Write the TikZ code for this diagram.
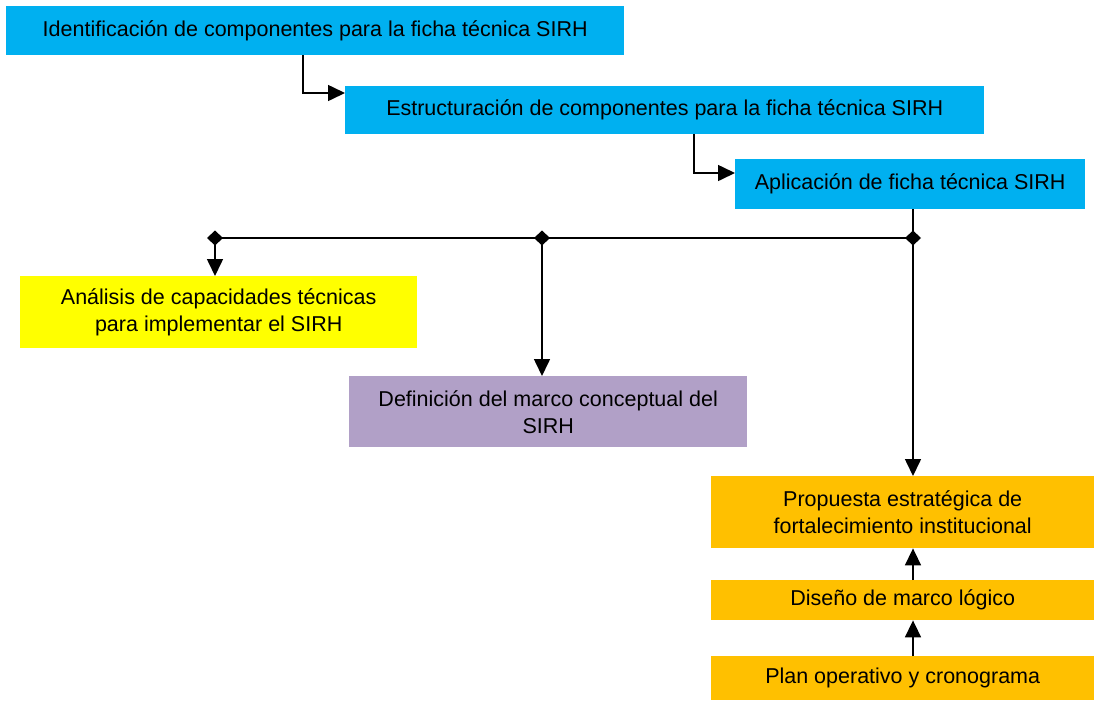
\documentclass[tikz,border=0pt]{standalone}
\usepackage{fontspec}
\setmainfont{Liberation Sans}
\usetikzlibrary{arrows.meta}
\definecolor{cblue}{HTML}{00B0F0}
\definecolor{cyellow}{HTML}{FFFF00}
\definecolor{cpurple}{HTML}{B1A0C7}
\definecolor{corange}{HTML}{FFC000}
\begin{document}
\begin{tikzpicture}[x=1pt,y=-1pt,
  box/.style={draw=none, inner sep=0pt, align=center, anchor=north west,
    font=\fontsize{21.5}{27}\selectfont},
  conn/.style={line width=1.6pt, -{Triangle[length=17pt,width=16pt]}},
  plain/.style={line width=1.6pt},
  diamark/.style={fill=black}]
\useasboundingbox (0,0) rectangle (1096,702);
\fill[white] (0,0) rectangle (1096,702);

\node[box, fill=cblue, minimum width=618, minimum height=49] (b1) at (6,6)
  {Identificación de componentes para la ficha técnica SIRH};
\node[box, fill=cblue, minimum width=639, minimum height=48] (b2) at (345,86)
  {Estructuración de componentes para la ficha técnica SIRH};
\node[box, fill=cblue, minimum width=350, minimum height=50] (b3) at (735,159)
  {Aplicación de ficha técnica SIRH};
\node[box, fill=cyellow, minimum width=397, minimum height=72] (y1) at (20,276)
  {Análisis de capacidades técnicas\\para implementar el SIRH};
\node[box, fill=cpurple, minimum width=398, minimum height=71] (p1) at (349,376)
  {Definición del marco conceptual del\\SIRH};
\node[box, fill=corange, minimum width=383, minimum height=72] (o1) at (711,476)
  {Propuesta estratégica de\\fortalecimiento institucional};
\node[box, fill=corange, minimum width=383, minimum height=40] (o2) at (711,580)
  {Diseño de marco lógico};
\node[box, fill=corange, minimum width=383, minimum height=44] (o3) at (711,656)
  {Plan operativo y cronograma};

% elbow connectors between blue boxes
\coordinate (k1) at (303,93);
\coordinate (k2) at (694,173);
\draw[conn] (b1.south -| k1) |- (b2.west |- k1);
\draw[conn] (b2.south -| k2) |- (b3.west |- k2);

% distribution bus
\coordinate (j1) at (215,238);
\coordinate (j2) at (542,238);
\coordinate (j3) at (913,238);
\draw[plain] (b3.south -| j3) -- (j3);
\draw[plain] (j1) -- (j3);
\draw[conn] (j1) -- (y1.north -| j1);
\draw[conn] (j2) -- (p1.north -| j2);
\draw[conn] (j3) -- (o1.north -| j3);
\foreach \j in {j1,j2,j3}
  \fill[diamark] (\j) +(0,-7.5) -- +(8,0) -- +(0,7.5) -- +(-8,0) -- cycle;

% upward arrows
\draw[conn] (o2.north -| j3) -- (o1.south -| j3);
\draw[conn] (o3.north -| j3) -- (o2.south -| j3);
\end{tikzpicture}
\end{document}
